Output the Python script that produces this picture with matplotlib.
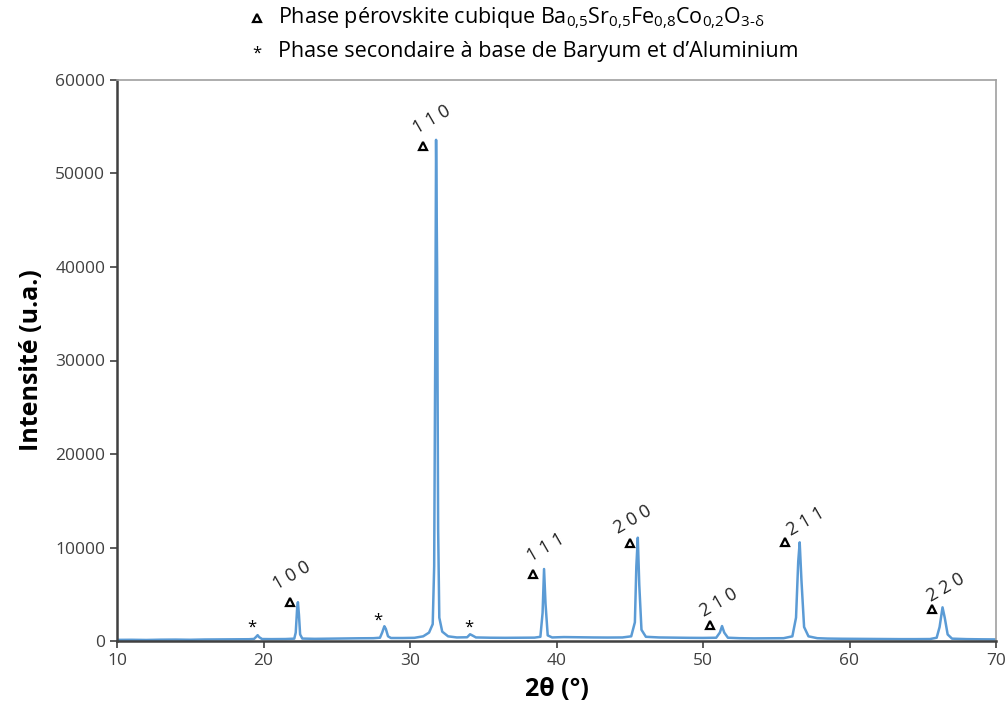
import matplotlib
matplotlib.use("Agg")
import matplotlib.pyplot as plt

# ---- data ----
two_theta = [10, 11, 12, 13, 14, 15, 16, 17, 18, 19.0, 19.35, 19.5, 19.6, 19.7, 19.9,
             20.5, 21.5, 22.1, 22.2, 22.3, 22.35, 22.42, 22.5, 22.65, 23.5, 24.5, 25.5,
             26.5, 27.5, 27.95, 28.1, 28.25, 28.35, 28.5, 28.7, 29.5, 30.3, 30.9, 31.3,
             31.55, 31.65, 31.72, 31.78, 31.85, 31.92, 32.0, 32.2, 32.6, 33.2, 33.9,
             34.1, 34.25, 34.5, 35.5, 36.5, 37.5, 38.5, 38.9, 39.05, 39.15, 39.25, 39.4,
             39.7, 40.5, 41.5, 42.5, 43.5, 44.5, 45.1, 45.35, 45.45, 45.55, 45.65, 45.8,
             46.1, 47, 48, 49, 50, 50.9, 51.15, 51.3, 51.45, 51.7, 52.5, 53.5, 54.5, 55.5,
             56.1, 56.35, 56.5, 56.6, 56.72, 56.9, 57.2, 57.8, 58.5, 59.5, 60.5, 61.5,
             62.5, 63.5, 64.5, 65.5, 65.95, 66.15, 66.35, 66.5, 66.7, 67.0, 68, 69, 70]
intensity = [120, 130, 110, 140, 150, 130, 160, 170, 180, 190, 220, 450, 620, 420, 210,
             200, 210, 250, 900, 3600, 4150, 2800, 700, 260, 230, 250, 270,
             290, 300, 350, 900, 1580, 1300, 500, 320, 320, 340, 500, 900,
             1800, 8000, 30000, 53600, 40000, 12000, 2500, 1000, 500, 380, 400,
             720, 600, 380, 350, 340, 350, 360, 450, 3000, 7700, 4000, 600,
             380, 420, 400, 380, 370, 380, 500, 2000, 8000, 11050, 6000, 1200,
             450, 380, 360, 340, 330, 350, 900, 1600, 900, 350, 300, 280, 290, 300,
             500, 2500, 8500, 10550, 6500, 1500, 500, 300, 260, 240, 230, 220,
             210, 200, 200, 210, 350, 1500, 3600, 2500, 700, 250, 200, 180, 170]

# pérovskite reflections: marker position and label position
hkl_labels = ["1 0 0", "1 1 0", "1 1 1", "2 0 0", "2 1 0", "2 1 1", "2 2 0"]
tri_x = [21.83, 30.9, 38.4, 45.0, 50.5, 55.6, 65.6]
tri_y = [4200, 52940, 7170, 10480, 1710, 10590, 3420]
lab_x = [21.96, 31.5, 39.25, 45.2, 51.1, 57.0, 66.6]
lab_y = [6950, 55730, 9950, 12940, 4060, 12730, 5670]

# secondary phase markers
star_x = [19.2, 27.8, 34.0]
star_y = [1390, 2140, 1390]

x_ticks = [10, 20, 30, 40, 50, 60, 70]
y_ticks = [0, 10000, 20000, 30000, 40000, 50000, 60000]

# ---- figure ----
plt.rcParams['font.family'] = ['Open Sans', 'DejaVu Sans']
plt.rcParams['mathtext.fontset'] = 'custom'
plt.rcParams['mathtext.rm'] = 'Open Sans'
plt.rcParams['mathtext.it'] = 'Open Sans'
plt.rcParams['mathtext.bf'] = 'Open Sans:bold'

fig = plt.figure(figsize=(10.08, 7.17), dpi=100)
ax = fig.add_axes([117/1008, 1 - 641/717, (996 - 117)/1008, (641 - 80)/717])

ax.plot(two_theta, intensity, color='#5B9BD5', lw=1.8)

ax.plot(tri_x, tri_y, linestyle='none', marker='^', ms=6, mfc='white',
        mec='black', mew=1.6)
for lx, ly, t in zip(lab_x, lab_y, hkl_labels):
    ax.text(lx, ly, t, rotation=30, ha='center', va='center', fontsize=13,
            color='#222222')
for sx, sy in zip(star_x, star_y):
    ax.text(sx, sy, '*', ha='center', va='center', fontsize=12, color='black')

ax.set_xlim(10, 70)
ax.set_ylim(0, 60000)
ax.set_xticks(x_ticks)
ax.set_yticks(y_ticks)
ax.tick_params(axis='both', direction='out', length=5, width=1.2,
               colors='#404040', labelsize=12.5, labelcolor='#404040')
for s in ['left', 'bottom']:
    ax.spines[s].set_color('#404040')
    ax.spines[s].set_linewidth(1.8)
for s in ['top', 'right']:
    ax.spines[s].set_color('#A0A0A0')
    ax.spines[s].set_linewidth(1.2)

ax.set_xlabel('2θ (°)', fontsize=18, fontweight='bold', labelpad=6)
ax.set_ylabel('Intensité (u.a.)', fontsize=18, fontweight='bold', labelpad=8)

# legend-like header
ax.plot([257/1008], [1 - 18/717], transform=fig.transFigure, clip_on=False,
        marker='^', ms=6, mfc='white', mec='black', mew=1.6, linestyle='none')
fig.text(278/1008, 1 - 18/717,
         r'Phase pérovskite cubique Ba$_{0{,}5}$Sr$_{0{,}5}$Fe$_{0{,}8}$Co$_{0{,}2}$O$_{3\text{-}\mathrm{δ}}$',
         fontsize=15.5, ha='left', va='center')
fig.text(257/1008, 1 - 54/717, '*', fontsize=12, ha='center', va='center')
fig.text(278/1008, 1 - 52/717, 'Phase secondaire à base de Baryum et d’Aluminium',
         fontsize=15.5, ha='left', va='center')

fig.savefig('out.png', dpi=100)
